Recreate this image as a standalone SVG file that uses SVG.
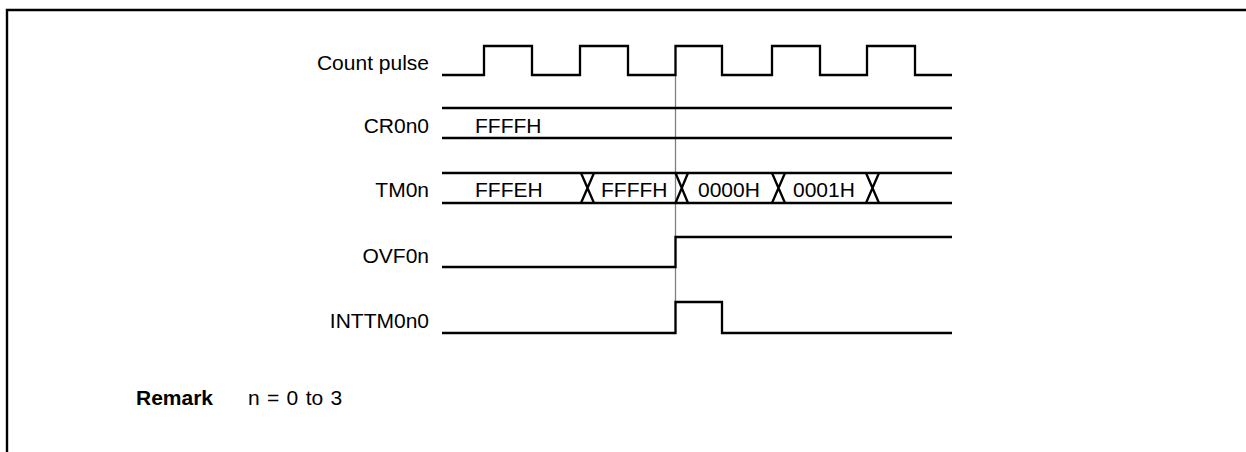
<svg xmlns="http://www.w3.org/2000/svg" width="1246" height="452" viewBox="0 0 1246 452">
<style>
.lbl{font-family:"Liberation Sans",Arial,sans-serif;font-size:21px;fill:#000;text-anchor:end}
.val{font-family:"Liberation Sans",Arial,sans-serif;font-size:21px;fill:#000}
.w{fill:none;stroke:#000;stroke-width:2.3}
.ref{fill:none;stroke:#808080;stroke-width:1.3}
</style>
<rect width="1246" height="452" fill="#fff"/>
<path d="M7,452 V10 H1246" fill="none" stroke="#000" stroke-width="2.4"/>
<g id="connectors">
<line class="ref" x1="675.5" y1="75" x2="675.5" y2="333"/>
</g>
<g id="count-pulse">
<text class="lbl" x="429" y="70">Count pulse</text>
<path class="w" d="M442,75 H484 V46 H532 V75 H580 V46 H628 V75 H675.5 V46 H722 V75 H772 V46 H820 V75 H867 V46 H915 V75 H952"/>
</g>
<g id="cr0n0">
<text class="lbl" x="429" y="133">CR0n0</text>
<path class="w" d="M442,108 H952 M442,138 H952"/>
<text class="val" x="475" y="133">FFFFH</text>
</g>
<g id="tm0n">
<text class="lbl" x="429" y="197">TM0n</text>
<path class="w" d="M442,173 H952 M442,203 H952"/>
<path class="w" d="M581,173 L594,203 M581,203 L594,173 M675.5,173 L688,203 M675.5,203 L688,173 M772,173 L785,203 M772,203 L785,173 M866,173 L879,203 M866,203 L879,173"/>
<text class="val" x="475" y="197">FFFEH</text>
<text class="val" x="601" y="197">FFFFH</text>
<text class="val" x="698" y="197">0000H</text>
<text class="val" x="793" y="197">0001H</text>
</g>
<g id="ovf0n">
<text class="lbl" x="429" y="263">OVF0n</text>
<path class="w" d="M442,267 H675.5 V237 H952"/>
</g>
<g id="inttm0n0">
<text class="lbl" x="429" y="328">INTTM0n0</text>
<path class="w" d="M442,333 H675.5 V302 H722 V333 H952"/>
</g>
<g id="remark">
<text x="136" y="405" font-family="Liberation Sans,Arial,sans-serif" font-size="21" font-weight="bold">Remark</text>
<text x="248" y="405" font-family="Liberation Sans,Arial,sans-serif" font-size="21" word-spacing="1.5">n = 0 to 3</text>
</g>
</svg>
